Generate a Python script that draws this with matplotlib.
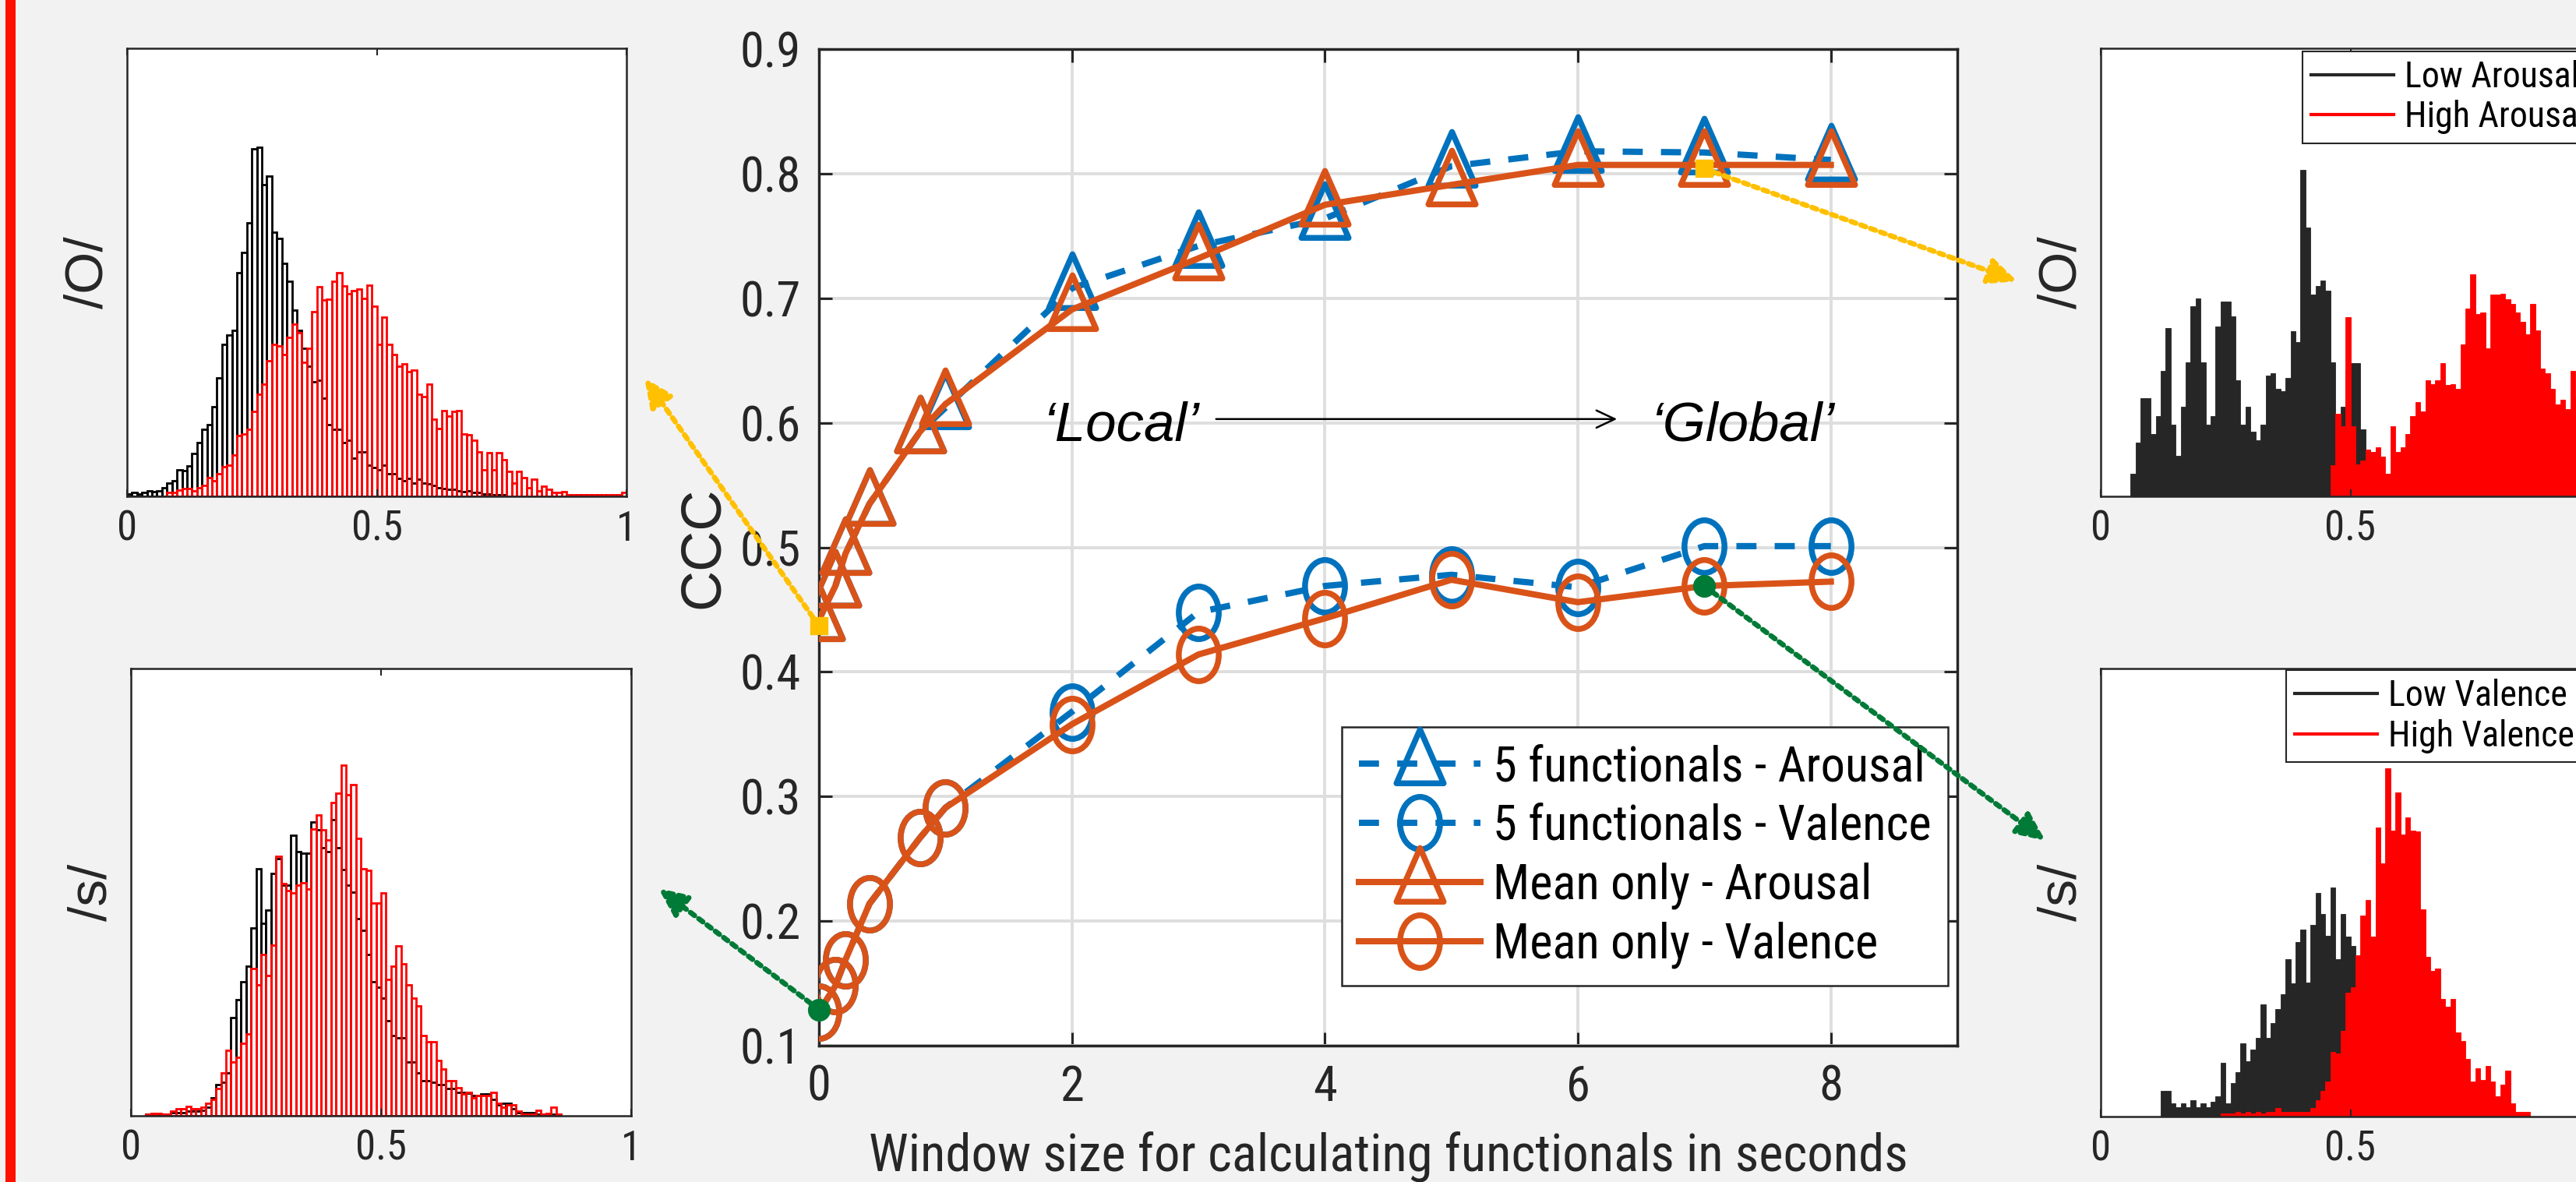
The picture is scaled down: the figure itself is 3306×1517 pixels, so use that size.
import numpy as np
import matplotlib
matplotlib.use('Agg')
import matplotlib.pyplot as plt
from matplotlib.path import Path
from matplotlib.markers import MarkerStyle
from matplotlib.lines import Line2D
from matplotlib.patches import Rectangle
import matplotlib.font_manager as fm

# ---------------- data ----------------
window_s = [0, 0.13, 0.21, 0.4, 0.8, 1, 2, 3, 4, 5, 6, 7, 8]
f5_arousal = [0.442, 0.469, 0.495, 0.535, 0.593, 0.612, 0.708, 0.742, 0.764, 0.806, 0.818, 0.817, 0.811]
f5_valence = [0.127, 0.148, 0.169, 0.214, 0.267, 0.291, 0.368, 0.448, 0.469, 0.478, 0.468, 0.501, 0.501]
mean_arousal = [0.442, 0.469, 0.495, 0.535, 0.593, 0.615, 0.691, 0.732, 0.775, 0.791, 0.807, 0.807, 0.807]
mean_valence = [0.127, 0.148, 0.169, 0.214, 0.267, 0.291, 0.358, 0.414, 0.443, 0.474, 0.456, 0.469, 0.4725]
series_labels = ['5 functionals - Arousal', '5 functionals - Valence',
                 'Mean only - Arousal', 'Mean only - Valence']
xticks_main = [0, 2, 4, 6, 8]
yticks_main = [0.1, 0.2, 0.3, 0.4, 0.5, 0.6, 0.7, 0.8, 0.9]
ytick_labels_main = ['0.1', '0.2', '0.3', '0.4', '0.5', '0.6', '0.7', '0.8', '0.9']

# highlighted points (window, CCC)
hl_arousal_x = [0, 7]
hl_arousal_y = [0.437, 0.804]
hl_valence_x = [0, 7]
hl_valence_y = [0.129, 0.469]

# histograms: bin width 0.01 over [0, 1]; values are relative heights, first bin index given
hist_bin = 0.01
tl_low_start = 0
tl_low = [0.005, 0.008, 0.005, 0.008, 0.012, 0.010, 0.012, 0.020, 0.030, 0.035,
          0.060, 0.058, 0.068, 0.095, 0.120, 0.150, 0.160, 0.200, 0.265, 0.340,
          0.360, 0.370, 0.500, 0.545, 0.610, 0.775, 0.780, 0.695, 0.715, 0.590,
          0.575, 0.520, 0.480, 0.415, 0.370, 0.330, 0.290, 0.255, 0.260, 0.220,
          0.160, 0.150, 0.150, 0.120, 0.125, 0.085, 0.100, 0.100, 0.070, 0.065,
          0.060, 0.070, 0.050, 0.050, 0.040, 0.035, 0.040, 0.030, 0.038, 0.030,
          0.028, 0.025, 0.020, 0.018, 0.016, 0.015, 0.012, 0.010, 0.012, 0.008,
          0.008, 0.006, 0.005, 0.004, 0.004, 0.003]
tl_high_start = 8
tl_high = [0.008, 0.008,
           0.014, 0.018, 0.018, 0.012, 0.020, 0.025, 0.042, 0.034, 0.050, 0.066,
           0.070, 0.093, 0.135, 0.140, 0.150, 0.190, 0.228, 0.250, 0.303, 0.340,
           0.335, 0.316, 0.355, 0.385, 0.366, 0.300, 0.330, 0.413, 0.468, 0.438,
           0.440, 0.480, 0.500, 0.470, 0.452, 0.460, 0.462, 0.442, 0.472, 0.425,
           0.340, 0.400, 0.340, 0.316, 0.290, 0.295, 0.278, 0.282, 0.227, 0.223,
           0.250, 0.173, 0.152, 0.192, 0.180, 0.190, 0.192, 0.139, 0.138, 0.126,
           0.100, 0.059, 0.097, 0.060, 0.097, 0.082, 0.055, 0.030, 0.055, 0.042,
           0.020, 0.038, 0.012, 0.023, 0.016, 0.008, 0.008, 0.010, 0.004, 0.004,
           0.004, 0.004, 0.004, 0.004, 0.004, 0.004, 0.004, 0.004, 0.004, 0.008]
bl_low_start = 3
bl_low = [0.004, 0.004, 0.004, 0.004, 0.004, 0.007, 0.007,
          0.007, 0.010, 0.011, 0.011, 0.012, 0.020, 0.040, 0.070, 0.075, 0.095,
          0.220, 0.260, 0.300, 0.334, 0.420, 0.553, 0.430, 0.460, 0.542, 0.575,
          0.515, 0.515, 0.628, 0.590, 0.587, 0.587, 0.656, 0.640, 0.600, 0.590,
          0.662, 0.600, 0.550, 0.515, 0.500, 0.440, 0.414, 0.360, 0.300, 0.288,
          0.263, 0.213, 0.180, 0.175, 0.175, 0.120, 0.120, 0.095, 0.078, 0.078,
          0.075, 0.070, 0.070, 0.061, 0.061, 0.053, 0.053, 0.050, 0.045, 0.045,
          0.049, 0.049, 0.036, 0.024, 0.028, 0.028, 0.015, 0.007, 0.007, 0.007,
          0.007, 0.004, 0.004, 0.004, 0.004, 0.004]
bl_high_start = 3
bl_high = [0.004, 0.006, 0.006, 0.004, 0.004, 0.010, 0.015,
           0.015, 0.021, 0.015, 0.015, 0.019, 0.028, 0.036, 0.061, 0.095, 0.147,
           0.120, 0.130, 0.162, 0.183, 0.330, 0.292, 0.361, 0.313, 0.382, 0.580,
           0.520, 0.503, 0.498, 0.515, 0.521, 0.507, 0.641, 0.672, 0.639, 0.616,
           0.700, 0.721, 0.784, 0.717, 0.740, 0.620, 0.553, 0.549, 0.475, 0.475,
           0.498, 0.305, 0.334, 0.380, 0.340, 0.292, 0.263, 0.246, 0.179, 0.166,
           0.166, 0.124, 0.105, 0.078, 0.078, 0.063, 0.049, 0.053, 0.040, 0.045,
           0.045, 0.045, 0.053, 0.028, 0.019, 0.024, 0.024, 0.011, 0.004, 0.004,
           0.004, 0.013, 0.004, 0.006, 0.019, 0.004]
tr_low_start = 6
tr_low = [0.050, 0.120, 0.220, 0.220,
          0.140, 0.180, 0.280, 0.375, 0.160, 0.090, 0.200, 0.300, 0.424, 0.442,
          0.300, 0.160, 0.180, 0.380, 0.435, 0.435, 0.402, 0.260, 0.160, 0.200,
          0.145, 0.125, 0.160, 0.270, 0.275, 0.240, 0.235, 0.265, 0.369, 0.345,
          0.729, 0.600, 0.450, 0.469, 0.482, 0.460, 0.300, 0.100, 0.200, 0.282,
          0.297, 0.297, 0.150, 0.100]
tr_high_start = 46
tr_high = [0.070, 0.184, 0.156, 0.400,
           0.156, 0.072, 0.080, 0.105, 0.100, 0.110, 0.088, 0.050, 0.156, 0.100,
           0.110, 0.140, 0.180, 0.210, 0.190, 0.260, 0.250, 0.260, 0.297, 0.249,
           0.250, 0.240, 0.340, 0.420, 0.495, 0.407, 0.410, 0.330, 0.450, 0.450,
           0.452, 0.440, 0.430, 0.410, 0.390, 0.362, 0.430, 0.370, 0.286, 0.275,
           0.240, 0.205, 0.215, 0.195, 0.280, 0.220, 0.150, 0.100, 0.060, 0.030]
br_low_start = 12
br_low = [0.057, 0.057, 0.030, 0.021, 0.030, 0.021, 0.036, 0.021,
          0.030, 0.021, 0.033, 0.045, 0.120, 0.030, 0.074, 0.100, 0.164, 0.124,
          0.150, 0.175, 0.250, 0.175, 0.208, 0.240, 0.273, 0.351, 0.297, 0.389,
          0.418, 0.300, 0.427, 0.500, 0.452, 0.404, 0.511, 0.351, 0.452, 0.402,
          0.381, 0.330, 0.280, 0.220, 0.180, 0.140, 0.100, 0.070, 0.040, 0.020]
br_high_start = 24
br_high = [0.007, 0.007, 0.007, 0.011, 0.007, 0.011,
           0.007, 0.011, 0.007, 0.011, 0.011, 0.020, 0.011, 0.011, 0.011, 0.011,
           0.011, 0.011, 0.020, 0.036, 0.057, 0.078, 0.145, 0.141, 0.192, 0.276,
           0.288, 0.360, 0.448, 0.483, 0.402, 0.645, 0.565, 0.777, 0.639, 0.723,
           0.629, 0.668, 0.639, 0.637, 0.463, 0.357, 0.326, 0.330, 0.263, 0.246,
           0.263, 0.187, 0.168, 0.129, 0.078, 0.108, 0.082, 0.113, 0.078, 0.045,
           0.071, 0.102, 0.029, 0.011, 0.011, 0.011]
hist_xticks_left = [0, 0.5, 1]
hist_xticklabels_left = ['0', '0.5', '1']
hist_xticks_right = [0, 0.5]          # the tick at 1 lies past the figure edge
hist_xticklabels_right = ['0', '0.5']
arousal_legend = ['Low Arousal', 'High Arousal']
valence_legend = ['Low Valence', 'High Valence']

# ---------------- fonts ----------------
names = {f.name for f in fm.fontManager.ttflist}
NARROW = None
for cand in ['Liberation Sans Narrow', 'Arial Narrow', 'Roboto Condensed',
             'Archivo Narrow', 'PT Sans Narrow']:
    if cand in names:
        NARROW = cand
        break
REG = 'Liberation Sans' if 'Liberation Sans' in names else 'DejaVu Sans'
plt.rcParams['font.family'] = [NARROW or REG, REG, 'DejaVu Sans']

# ---------------- figure ----------------
W, H = 3306, 1517
DPI = 100
DARK = '#262626'
BLUE = '#0072BD'
ORANGE = '#D95319'
YELLOW = '#FFC000'
GREEN = '#007A37'

fig = plt.figure(figsize=(W / DPI, H / DPI), dpi=DPI, facecolor='#f2f2f2')


def px_axes(l, t, r, b):
    return fig.add_axes([l / W, 1 - b / H, (r - l) / W, (b - t) / H])


# red bar at the left edge
fig.add_artist(Rectangle((7 / W, 0), 13 / W, 1, transform=fig.transFigure,
                         facecolor='#ff1100', edgecolor='none'))

# custom markers (tall triangle centred near its centroid, tall ellipse)
TRI = MarkerStyle(Path([(0, 1), (-0.686, -0.562), (0.686, -0.562), (0, 1)],
                       [Path.MOVETO, Path.LINETO, Path.LINETO, Path.CLOSEPOLY]),
                  joinstyle='miter')
uc = Path.unit_circle()
ELL = MarkerStyle(Path(uc.vertices * np.array([0.76, 1.0]), uc.codes))

ax = px_axes(1051, 63, 2512, 1342)
ax.set_facecolor('white')
lw, mew, tri_ms, ell_ms = 5.8, 5.4, 63.6, 48.6
dash = (3.2, 2.9)
ax.plot(window_s, f5_arousal, color=BLUE, lw=lw, dashes=dash, marker=TRI, ms=tri_ms,
        mfc='none', mec=BLUE, mew=mew, label=series_labels[0], zorder=3)
ax.plot(window_s, f5_valence, color=BLUE, lw=lw, dashes=dash, marker=ELL, ms=ell_ms,
        mfc='none', mec=BLUE, mew=mew, label=series_labels[1], zorder=3)
ax.plot(window_s, mean_arousal, color=ORANGE, lw=lw, marker=TRI, ms=tri_ms,
        mfc='none', mec=ORANGE, mew=mew, label=series_labels[2], zorder=4)
ax.plot(window_s, mean_valence, color=ORANGE, lw=lw, marker=ELL, ms=ell_ms,
        mfc='none', mec=ORANGE, mew=mew, label=series_labels[3], zorder=4)

ax.set_xlim(0, 9)
ax.set_ylim(0.1, 0.9)
ax.set_xticks(xticks_main)
ax.set_yticks(yticks_main)
ax.set_yticklabels(ytick_labels_main)
ax.tick_params(direction='in', length=12, width=2.2, top=True, right=True,
               labelsize=45, color=DARK, labelcolor=DARK, pad=17)
ax.grid(True, color='#dedede', lw=2.8)
ax.set_axisbelow(True)
for s in ax.spines.values():
    s.set_linewidth(2.5)
    s.set_color(DARK)

ax.set_xlabel('Window size for calculating functionals in seconds', fontsize=48, color=DARK)
ax.xaxis.set_label_coords(0.5, (1342 - 1503) / 1279)
ax.xaxis.label.set_va('baseline')
ax.set_ylabel('CCC', fontsize=52, color=DARK, family=REG)
ax.yaxis.set_label_coords((903 - 1051) / 1461, 0.5)
ax.yaxis.label.set_va('center')

leg = ax.legend(loc='lower right', bbox_to_anchor=(0.9918, 0.0602), borderaxespad=0,
                prop=dict(size=45), frameon=True, fancybox=False, edgecolor=DARK,
                framealpha=1, handlelength=2.5, handletextpad=0.25, labelspacing=0.25,
                borderpad=0.35)
leg.get_frame().set_linewidth(1.8)
for t in leg.get_texts():
    t.set_color('black')

# 'Local' -> 'Global'
ax.text(2.39, 0.586, '\u2018Local\u2019', ha='center', va='baseline', fontsize=51,
        style='italic', family=REG, color='black')
ax.text(7.30, 0.586, '\u2018Global\u2019', ha='center', va='baseline', fontsize=51,
        style='italic', family=REG, color='black')
ax.annotate('', xy=(6.31, 0.603), xytext=(3.14, 0.603),
            arrowprops=dict(arrowstyle='->,head_length=0.85,head_width=0.4',
                            mutation_scale=20, lw=1.8, color='black',
                            shrinkA=0, shrinkB=0))

# highlighted points and dotted pointers to the histograms
ax.plot(hl_arousal_x, hl_arousal_y, 's', color=YELLOW, ms=16, zorder=10, clip_on=False)
ax.plot(hl_valence_x, hl_valence_y, 'o', color=GREEN, ms=20, zorder=10, clip_on=False)
heads = [((827, 485), YELLOW, 0), ((2589, 361), YELLOW, 1),
         ((845, 1140), GREEN, 0), ((2625, 1079), GREEN, 1)]
for (hx, hy), c, k in heads:
    tx, ty = ((hl_arousal_x[k], hl_arousal_y[k]) if c == YELLOW
              else (hl_valence_x[k], hl_valence_y[k]))
    ax.annotate('', xy=(hx, H - hy), xycoords='figure pixels', xytext=(tx, ty),
                textcoords='data', annotation_clip=False, zorder=9,
                arrowprops=dict(arrowstyle='-|>,head_length=1.1,head_width=0.5',
                                mutation_scale=20, color=c, lw=4.8,
                                linestyle=(0, (1, 1)), shrinkA=0, shrinkB=0))


# ---------------- histograms ----------------
def hist_axes(l, t, r, b, ylabel, ticks, ticklabels):
    h = px_axes(l, t, r, b)
    h.set_facecolor('white')
    h.set_xlim(0, 1)
    h.set_ylim(0, 1)
    h.set_xticks(ticks)
    h.set_xticklabels(ticklabels)
    h.set_yticks([])
    h.tick_params(direction='in', length=6.5, width=1.5, top=True, labelsize=38,
                  color=DARK, labelcolor=DARK, pad=12)
    for s in h.spines.values():
        s.set_linewidth(1.8)
        s.set_color(DARK)
    h.set_ylabel(ylabel, fontsize=50, color=DARK, family=REG)
    h.yaxis.set_label_coords(-0.077, 0.5)
    h.yaxis.label.set_va('center')
    return h


def draw_bars(h, start, vals, color, filled):
    vals = np.asarray(vals, dtype=float)
    left = (start + np.arange(len(vals))) * hist_bin
    keep = vals > 0
    if filled:
        h.bar(left[keep], vals[keep], width=hist_bin, align='edge', color=color,
              edgecolor=color, linewidth=0.6)
    else:
        h.bar(left[keep], vals[keep], width=hist_bin, align='edge', facecolor='none',
              edgecolor=color, linewidth=2.0)


tl = hist_axes(163, 62, 804, 637, '/O/', hist_xticks_left, hist_xticklabels_left)
draw_bars(tl, tl_low_start, tl_low, 'black', False)
draw_bars(tl, tl_high_start, tl_high, 'red', False)

bl = hist_axes(168, 858, 810, 1432, '/s/', hist_xticks_left, hist_xticklabels_left)
draw_bars(bl, bl_low_start, bl_low, 'black', False)
draw_bars(bl, bl_high_start, bl_high, 'red', False)

tr = hist_axes(2696, 62, 3337, 637, '/O/', hist_xticks_right, hist_xticklabels_right)
draw_bars(tr, tr_low_start, tr_low, DARK, True)
draw_bars(tr, tr_high_start, tr_high, 'red', True)

br = hist_axes(2696, 858, 3337, 1433, '/s/', hist_xticks_right, hist_xticklabels_right)
draw_bars(br, br_low_start, br_low, DARK, True)
draw_bars(br, br_high_start, br_high, 'red', True)

for h, labels, anchor in [(tr, arousal_legend, ((2955 - 2696) / 641, (637 - 65.5) / 575)),
                          (br, valence_legend, ((2934 - 2696) / 641, (1433 - 860) / 575))]:
    hs = [Line2D([], [], color=DARK, lw=3), Line2D([], [], color='red', lw=3)]
    lg = h.legend(hs, labels, loc='upper left', bbox_to_anchor=anchor, borderaxespad=0,
                  prop=dict(size=33), fancybox=False, edgecolor=DARK, framealpha=1,
                  handlelength=2.3, handletextpad=0.3, labelspacing=0.16, borderpad=0.25)
    lg.get_frame().set_linewidth(1.5)
    for t in lg.get_texts():
        t.set_color('black')

fig.savefig('out.png', dpi=DPI, facecolor=fig.get_facecolor())
